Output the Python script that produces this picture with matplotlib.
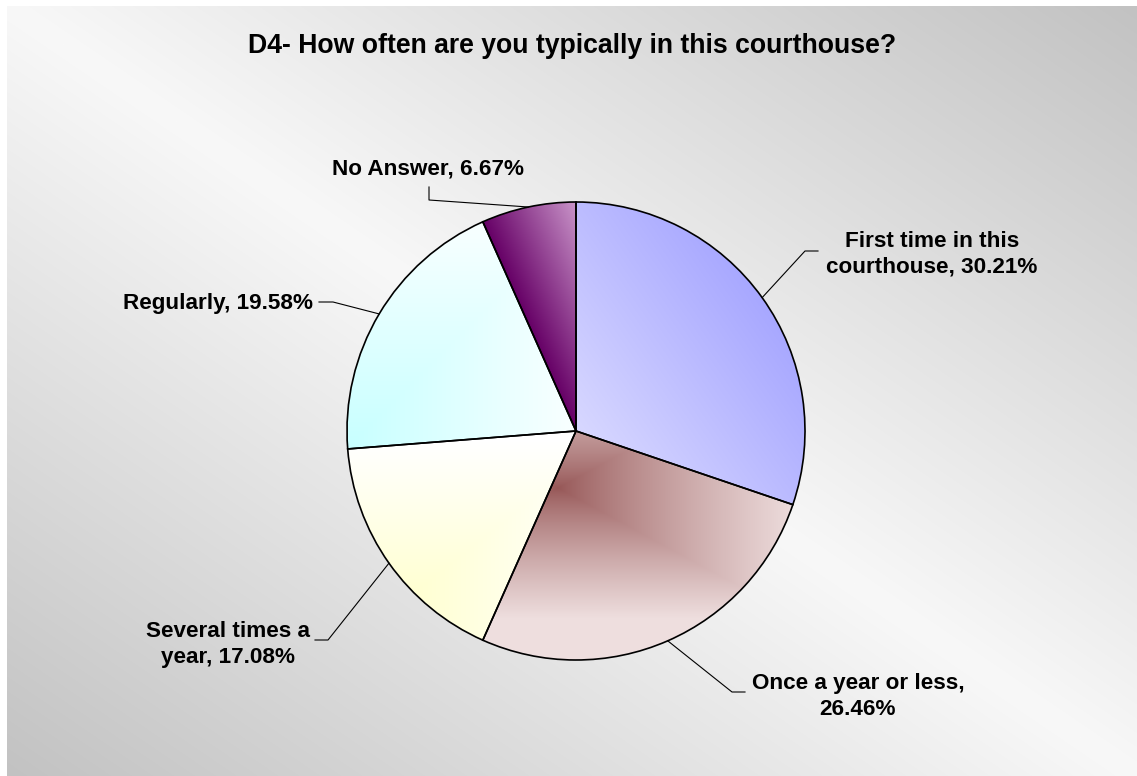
import numpy as np
import matplotlib
matplotlib.use("Agg")
import matplotlib.pyplot as plt
from matplotlib.colors import to_rgb

W, H = 1137, 776

title = "D4- How often are you typically in this courthouse?"
categories = ["First time in this courthouse", "Once a year or less",
              "Several times a year", "Regularly", "No Answer"]
values = [30.21, 26.46, 17.08, 19.58, 6.67]
# where Excel wrapped each label
wraps = ["this ", "less, ", "times a ", None, None]

# label anchor (centre x, last baseline) and leader elbows, in pixels (y down)
label_xy = [(932, 273), (858, 715), (228, 663), (218, 309), (428, 174)]
leaders = [[(818, 251), (805, 251)],
           [(745, 692), (732, 692)],
           [(315, 640), (328, 640)],
           [(319, 302), (333, 302)],
           [(429, 187), (429, 200)]]

pie_center = (576, 431)
pie_radius = 229

X, Y = np.meshgrid(np.arange(W) + 0.5, np.arange(H) + 0.5)


def lerp(c0, c1, t):
    t = np.clip(t, 0, 1)[..., None]
    return (1 - t) * np.array(to_rgb(c0)) + t * np.array(to_rgb(c1))


def linear(x0, y0, ang, length):
    a = np.deg2rad(ang)
    return ((X - x0) * np.cos(a) - (Y - y0) * np.sin(a)) / length


def from_corner(x0, y0, w, h):
    return np.maximum(np.abs(X - x0) / w, np.abs(Y - y0) / h)


# slice fills: (start colour, end colour, gradient parameter)
fills = [
    ("#dcdcff", "#a3a3ff", linear(585, 478, 35, 270)),
    ("#965656", "#eedede", from_corner(558, 488, 240, 130) ** 0.8),
    ("#ffffd2", "#ffffff", from_corner(415, 592, 190, 150)),
    ("#c8ffff", "#f8ffff", from_corner(350, 445, 220, 220)),
    ("#660066", "#cc99cc", linear(576, 431, 24, 96)),
]

fig = plt.figure(figsize=(W / 100, H / 100), dpi=100)
ax = fig.add_axes([0, 0, 1, 1])

# chart area background: light along the main diagonal, grey towards the other corners
u = (X - 7) / (W - 7)
v = (Y - 6) / (H - 6)
g = 248 - 54 * np.abs(u - v)
bg = np.dstack([g, g, g]) / 255
bg_img = ax.imshow(bg, extent=(0, W, H, 0), origin="upper", zorder=-2,
                   interpolation="bilinear")
clip = plt.Rectangle((7, 6), W - 7, H - 6, transform=ax.transData)
bg_img.set_clip_path(clip)

wedges, _ = ax.pie(values, startangle=-90, counterclock=True,
                   center=pie_center, radius=pie_radius,
                   wedgeprops=dict(facecolor="none", edgecolor="black",
                                   linewidth=1.2))

for w, (c0, c1, t) in zip(wedges, fills):
    img = ax.imshow(lerp(c0, c1, t), extent=(0, W, H, 0), origin="upper",
                    zorder=0, interpolation="bilinear")
    img.set_clip_path(w)
    w.set_zorder(1)

font = dict(family="Liberation Sans", weight="bold", color="black")

for i, (cat, val) in enumerate(zip(categories, values)):
    text = f"{cat}, {val:.2f}%"
    if wraps[i]:
        text = text.replace(wraps[i], wraps[i].rstrip() + "\n", 1)
    x, y = label_xy[i]
    ax.text(x, y, text, ha="center", va="baseline", ma="center",
            fontsize=16.2, linespacing=1.33, **font)

    w = wedges[i]
    mid = np.deg2rad((w.theta1 + w.theta2) / 2)
    ex = pie_center[0] + pie_radius * np.cos(mid)
    ey = pie_center[1] + pie_radius * np.sin(mid)
    pts = leaders[i] + [(ex, ey)]
    ax.plot([p[0] for p in pts], [p[1] for p in pts], color="black",
            linewidth=0.8, zorder=2)

ax.text(572, 53, title, ha="center", va="baseline", fontsize=19.2, **font)

ax.set_aspect("auto")
ax.set_xlim(0, W)
ax.set_ylim(H, 0)
ax.axis("off")

fig.savefig("out.png", dpi=100, facecolor="white")
